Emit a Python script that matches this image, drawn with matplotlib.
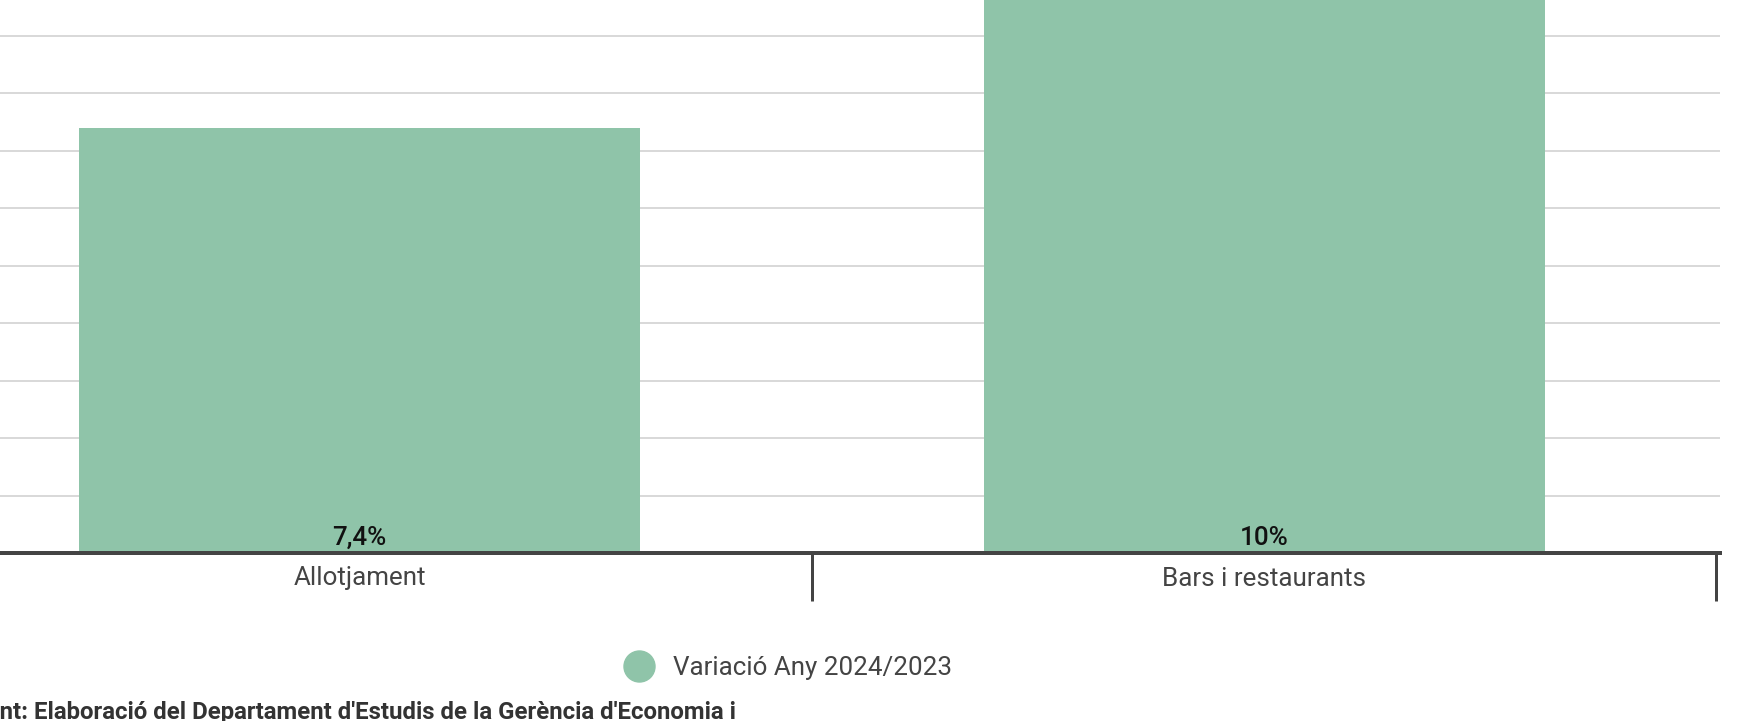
import matplotlib
matplotlib.use("Agg")
import matplotlib.pyplot as plt
from matplotlib.lines import Line2D

plt.rcParams['font.family'] = ['Roboto', 'DejaVu Sans']

categories = ['Allotjament', 'Bars i restaurants']
values = [7.4, 10.0]
value_labels = ['7,4%', '10%']
series_name = 'Variació Any 2024/2023'
source_text = "Font: Elaboració del Departament d'Estudis de la Gerència d'Economia i"

bar_color = '#8fc4a9'
axis_color = '#444444'
grid_color = '#d9d9d9'

W, H, DPI = 1750, 721, 100
px = 72 / DPI  # pixels -> points

fig = plt.figure(figsize=(W / DPI, H / DPI), dpi=DPI)
ax = fig.add_axes([0, (H - 553) / H, 1720 / W, 553 / H])

x = list(range(len(categories)))
ax.bar(x, values, width=0.62, color=bar_color, zorder=2)

# gridlines
ax.set_yticks(range(1, 10))
ax.yaxis.grid(True, color=grid_color, linewidth=2 * px, zorder=0)
ax.tick_params(axis='y', left=False, labelleft=False)

# category axis
for s in ['top', 'right', 'left']:
    ax.spines[s].set_visible(False)
ax.spines['bottom'].set_color(axis_color)
ax.spines['bottom'].set_linewidth(4 * px)
ax.spines['bottom'].set_zorder(3)

ax.set_xticks(x)
ax.set_xticklabels(categories, fontsize=26 * px, color=axis_color)
ax.set_xticks([0.5, 1.5], minor=True)
ax.tick_params(axis='x', which='major', length=0, pad=13.5 * px)
ax.tick_params(axis='x', which='minor', length=48 * px, width=3 * px,
               color=axis_color, direction='out')

# limits last, so the ticks don't widen them
ax.set_xlim(-0.3977, 1.5039)
ax.set_ylim(0, 553 / 57.5)

for i, lab in enumerate(value_labels):
    ax.annotate(lab, xy=(x[i], 0), xytext=(0, 8 * px), textcoords='offset points',
                ha='center', va='baseline', fontsize=26 * px, color='#111111',
                fontweight='medium', zorder=4)

handle = Line2D([], [], marker='o', linestyle='none', markersize=31 * px,
                markerfacecolor=bar_color, markeredgecolor=bar_color)
fig.legend([handle], [series_name], loc='center', bbox_to_anchor=(789 / W, (H - 668) / H),
           frameon=False, fontsize=26 * px, labelcolor=axis_color,
           handletextpad=0.83, handlelength=1.0, borderpad=0)

fig.text(-27 / W, (H - 719) / H, source_text, fontsize=24 * px, fontweight='bold',
         color='#333333', ha='left', va='baseline')

fig.savefig('out.png', dpi=DPI)
